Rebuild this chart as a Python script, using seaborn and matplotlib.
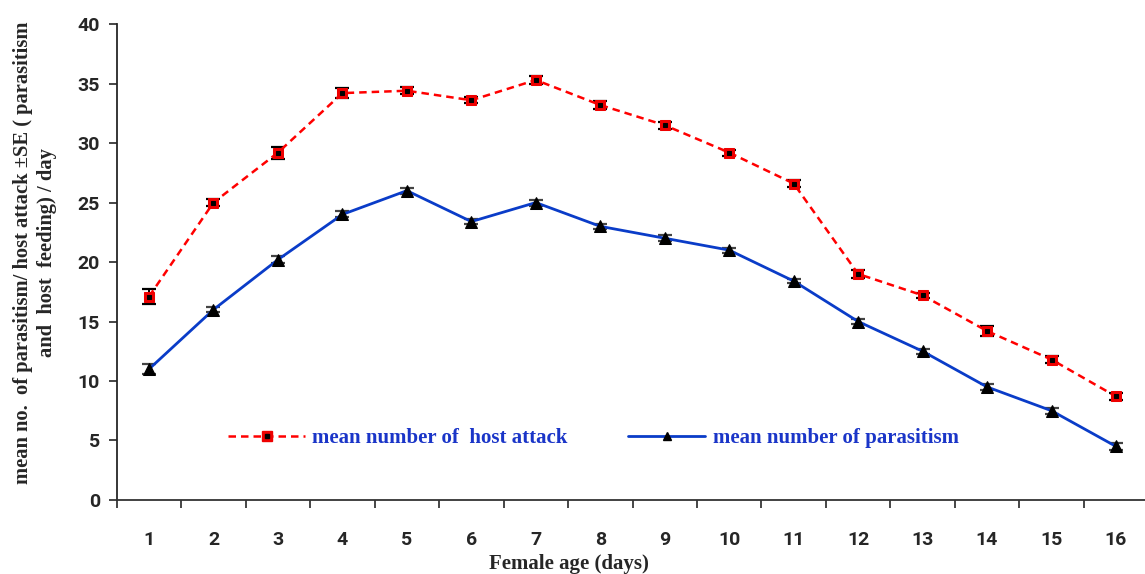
import matplotlib
matplotlib.use("Agg")
import matplotlib.pyplot as plt
import seaborn as sns
import pandas as pd
from matplotlib.legend_handler import HandlerTuple
from matplotlib.lines import Line2D

days = list(range(1, 17))
host_attack = [17.1, 25.0, 29.2, 34.2, 34.4, 33.6, 35.3, 33.2, 31.5, 29.2, 26.6, 19.0, 17.2, 14.2, 11.8, 8.7]
host_attack_se = [0.6, 0.3, 0.5, 0.4, 0.3, 0.25, 0.35, 0.35, 0.3, 0.25, 0.3, 0.35, 0.2, 0.4, 0.3, 0.3]
parasitism = [11.0, 16.0, 20.2, 24.0, 26.0, 23.4, 25.0, 23.0, 22.0, 21.0, 18.4, 15.0, 12.5, 9.5, 7.5, 4.5]
parasitism_se = [0.4, 0.2, 0.3, 0.25, 0.25, 0.2, 0.25, 0.2, 0.25, 0.2, 0.2, 0.2, 0.2, 0.25, 0.25, 0.3]
yticks = [0, 5, 10, 15, 20, 25, 30, 35, 40]
label_attack = "mean number of  host attack"
label_paras = "mean number of parasitism"

df = pd.DataFrame({"day": days, "attack": host_attack, "attack_se": host_attack_se,
                   "paras": parasitism, "paras_se": parasitism_se})

sns.set_style("ticks")
fig = plt.figure(figsize=(11.45, 5.74), dpi=100)
ax = fig.add_axes([0.102, 0.129, 0.898, 0.829])

tick_font = ["Roboto", "DejaVu Sans"]
serif = ["Liberation Serif", "DejaVu Serif"]

ax.errorbar(df["day"], df["attack"], yerr=df["attack_se"], fmt="none", ecolor="black",
            elinewidth=1.4, capsize=5, capthick=1.6, zorder=3)
ax.errorbar(df["day"], df["paras"], yerr=df["paras_se"], fmt="none", ecolor="#444444",
            elinewidth=1.4, capsize=5, capthick=1.6, zorder=3)

sns.lineplot(data=df, x="day", y="attack", ax=ax, color="#ff0000", linestyle=(0, (3, 2)),
             linewidth=1.8, marker="s", markersize=7, markerfacecolor="#ee0000",
             markeredgecolor="#ee0000", zorder=4)
sns.lineplot(data=df, x="day", y="attack", ax=ax, color="black", linestyle="none",
             marker="s", markersize=2.5, markeredgecolor="black", zorder=5)
sns.lineplot(data=df, x="day", y="paras", ax=ax, color="#0a3cc8", linewidth=2.0,
             marker="^", markersize=8, markerfacecolor="black", markeredgecolor="black", zorder=4)

ax.set_xlim(0.5, 16.45)
ax.set_ylim(0, 40)
ax.set_yticks(yticks)
ax.set_xticks([d - 0.5 for d in days])
ax.set_xticklabels([])
ax.set_xticks(days, minor=True)
ax.set_xticklabels([str(d) for d in days], minor=True, fontfamily=tick_font,
                   fontweight="bold", fontsize=14)
ax.tick_params(axis="x", which="minor", length=0, pad=22)
ax.tick_params(axis="x", which="major", length=6, width=1.2, direction="out")
ax.tick_params(axis="y", length=6, width=1.2, direction="out", pad=6)
for lab in ax.get_yticklabels():
    lab.set_fontfamily(tick_font)
    lab.set_fontweight("bold")
    lab.set_fontsize(14)
for s in ["top", "right"]:
    ax.spines[s].set_visible(False)
ax.spines["left"].set_linewidth(1.3)
ax.spines["bottom"].set_linewidth(1.3)
ax.spines["bottom"].set_color("#333333")

ax.set_xlabel("Female age (days)", fontfamily=serif, fontweight="bold", fontsize=15)
ax.xaxis.set_label_coords(0.44, -0.113)
ax.set_ylabel("mean no.  of parasitism/ host attack \u00b1SE ( parasitism\nand  host  feeding) / day",
              fontfamily=serif, fontweight="bold", fontsize=14.8, linespacing=1.3)
ax.yaxis.set_label_coords(-0.058, 0.52)

h1a = Line2D([], [], color="#ff0000", linestyle=(0, (3, 2)), linewidth=1.8, marker="s",
             markersize=7, markerfacecolor="#ee0000", markeredgecolor="#ee0000")
h1b = Line2D([], [], color="black", linestyle="none", marker="s", markersize=2.5)
h2 = Line2D([], [], color="#0a3cc8", linewidth=2.0, marker="^", markersize=6,
            markerfacecolor="black", markeredgecolor="black")
leg = ax.legend([(h1a, h1b), h2], [label_attack, label_paras], handler_map={tuple: HandlerTuple(ndivide=1)},
                loc="center left", bbox_to_anchor=(0.09, 0.13), ncol=2, frameon=False,
                columnspacing=2.9, handlelength=3.7, handletextpad=0.35,
                prop={"family": serif, "weight": "bold", "size": 15})
for t in leg.get_texts():
    t.set_color("#1a35c8")

fig.savefig("out.png", dpi=100)
